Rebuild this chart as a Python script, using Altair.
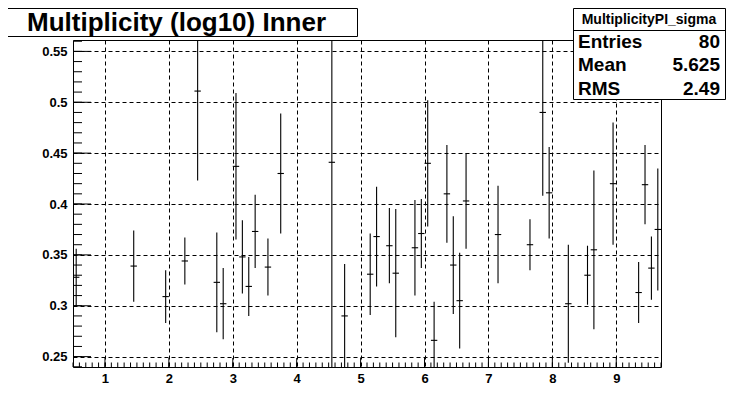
import altair as alt
import pandas as pd

# ---- data ----
bin_centers = [0.55, 1.45, 1.95, 2.25, 2.45, 2.75, 2.85, 3.05, 3.15, 3.25, 3.35, 3.55, 3.75,
               4.55, 4.75, 5.15, 5.25, 5.45, 5.55, 5.85, 5.95, 6.05, 6.15, 6.35, 6.45, 6.55, 6.65,
               7.15, 7.65, 7.85, 7.95, 8.25, 8.55, 8.65, 8.95, 9.35, 9.45, 9.55, 9.65]
sigma_values = [0.328, 0.339, 0.309, 0.344, 0.511, 0.323, 0.302, 0.437, 0.348, 0.319, 0.373, 0.338, 0.430,
                0.441, 0.290, 0.331, 0.368, 0.359, 0.332, 0.357, 0.371, 0.440, 0.266, 0.410, 0.340, 0.305, 0.403,
                0.370, 0.360, 0.490, 0.411, 0.302, 0.330, 0.355, 0.420, 0.313, 0.419, 0.337, 0.375]
sigma_errors = [0.028, 0.035, 0.026, 0.023, 0.088, 0.049, 0.035, 0.072, 0.036, 0.029, 0.036, 0.028, 0.059,
                0.230, 0.051, 0.040, 0.049, 0.037, 0.063, 0.047, 0.034, 0.062, 0.038, 0.048, 0.048, 0.047, 0.047,
                0.048, 0.025, 0.082, 0.045, 0.058, 0.029, 0.078, 0.060, 0.030, 0.039, 0.031, 0.060]
bin_width = 0.1

x_major_ticks = [1, 2, 3, 4, 5, 6, 7, 8, 9]
y_major_ticks = [0.25, 0.3, 0.35, 0.4, 0.45, 0.5, 0.55]
x_minor_ticks = [round(0.5 + 0.1 * i, 1) for i in range(93)]
y_minor_ticks = [round(0.24 + 0.01 * i, 2) for i in range(33)]

x_domain = [0.5, 9.7]
y_domain = [0.2398, 0.5612]

title_text = "Multiplicity (log10) Inner"
stats_name = "MultiplicityPI_sigma"
stats_labels = ["Entries", "Mean", "RMS"]
stats_values = ["80", "5.625", "2.49"]

# ---- tables ----
df = pd.DataFrame({"x": bin_centers, "y": sigma_values, "err": sigma_errors})
df["lo"] = df["y"] - df["err"]
df["hi"] = df["y"] + df["err"]
df["x0"] = df["x"] - bin_width / 2
df["x1"] = df["x"] + bin_width / 2

W, H = 588, 327
FONT = "Liberation Sans"

xs = alt.Scale(domain=x_domain, nice=False, zero=False)
ys = alt.Scale(domain=y_domain, nice=False, zero=False)
X_AX = alt.Axis(values=x_major_ticks, title=None, grid=True, labelPadding=5)
Y_AX = alt.Axis(values=y_major_ticks, title=None, grid=True, format=".2~f", labelPadding=6)

base = alt.Chart(df)
vbars = base.mark_rule(color="black", strokeWidth=1.1, clip=True).encode(
    x=alt.X("x:Q", scale=xs, axis=X_AX),
    y=alt.Y("lo:Q", scale=ys, axis=Y_AX),
    y2="hi:Q",
)
hbars = base.mark_rule(color="black", strokeWidth=1.1, clip=True).encode(
    x=alt.X("x0:Q", scale=xs, axis=X_AX),
    x2="x1:Q",
    y=alt.Y("y:Q", scale=ys, axis=Y_AX),
)

# inward axis ticks
ymin_df = pd.DataFrame({"t": y_minor_ticks})
ymaj_df = pd.DataFrame({"t": y_major_ticks})
xmin_df = pd.DataFrame({"t": x_minor_ticks})
xmaj_df = pd.DataFrame({"t": x_major_ticks})

ytick_minor = alt.Chart(ymin_df).mark_rule(color="black").encode(
    y=alt.Y("t:Q", scale=ys, axis=Y_AX), x=alt.value(0), x2=alt.value(9))
ytick_major = alt.Chart(ymaj_df).mark_rule(color="black").encode(
    y=alt.Y("t:Q", scale=ys, axis=Y_AX), x=alt.value(0), x2=alt.value(18))
xtick_minor = alt.Chart(xmin_df).mark_rule(color="black").encode(
    x=alt.X("t:Q", scale=xs, axis=X_AX), y=alt.value(H), y2=alt.value(H - 4.5))
xtick_major = alt.Chart(xmaj_df).mark_rule(color="black").encode(
    x=alt.X("t:Q", scale=xs, axis=X_AX), y=alt.value(H), y2=alt.value(H - 9))

# title box and stats box
one = pd.DataFrame({"k": [0]})
title_box = alt.Chart(one).mark_rect(fill="white", stroke="black", strokeWidth=1).encode(
    x=alt.value(-65.5), x2=alt.value(284.5), y=alt.value(-31.5), y2=alt.value(-3.5))
title_txt = alt.Chart(one).mark_text(
    text=title_text, align="left", baseline="middle", font=FONT, fontWeight="bold",
    fontSize=26, color="black").encode(x=alt.value(-46), y=alt.value(-17))

stats_box = alt.Chart(one).mark_rect(fill="white", stroke="black", strokeWidth=1).encode(
    x=alt.value(500.5), x2=alt.value(652.5), y=alt.value(-31.5), y2=alt.value(59.5))
stats_sep = alt.Chart(one).mark_rule(color="black", strokeWidth=1).encode(
    x=alt.value(500.5), x2=alt.value(652.5), y=alt.value(-9.5))
stats_head = alt.Chart(one).mark_text(
    text=stats_name, align="center", baseline="middle", font=FONT, fontWeight="bold",
    fontSize=14, color="black").encode(x=alt.value(576), y=alt.value(-20))

row_y = [1.5, 25, 48.5]
stats_layers = []
for lab, val, yy in zip(stats_labels, stats_values, row_y):
    stats_layers.append(alt.Chart(one).mark_text(
        text=lab, align="left", baseline="middle", font=FONT, fontWeight="bold",
        fontSize=19, color="black").encode(x=alt.value(505), y=alt.value(yy)))
    stats_layers.append(alt.Chart(one).mark_text(
        text=val, align="right", baseline="middle", font=FONT, fontWeight="bold",
        fontSize=19, color="black").encode(x=alt.value(647), y=alt.value(yy)))

chart = alt.layer(
    ytick_minor, ytick_major, xtick_minor, xtick_major, vbars, hbars,
    title_box, title_txt, stats_box, stats_sep, stats_head, *stats_layers,
).properties(
    width=W, height=H,
    padding={"left": 65, "top": 32, "right": 66, "bottom": 33},
    autosize=alt.AutoSizeParams(type="none"),
).configure(background="white").configure_view(
    stroke="black", strokeWidth=1,
).configure_axis(
    labelFont=FONT, labelFontWeight="bold", labelFontSize=13, labelColor="black",
    gridColor="black", gridDash=[4, 3], gridWidth=1, gridOpacity=1,
    domain=False, ticks=False,
)

chart.save("out.html", embed_options={"renderer": "svg", "actions": False})
